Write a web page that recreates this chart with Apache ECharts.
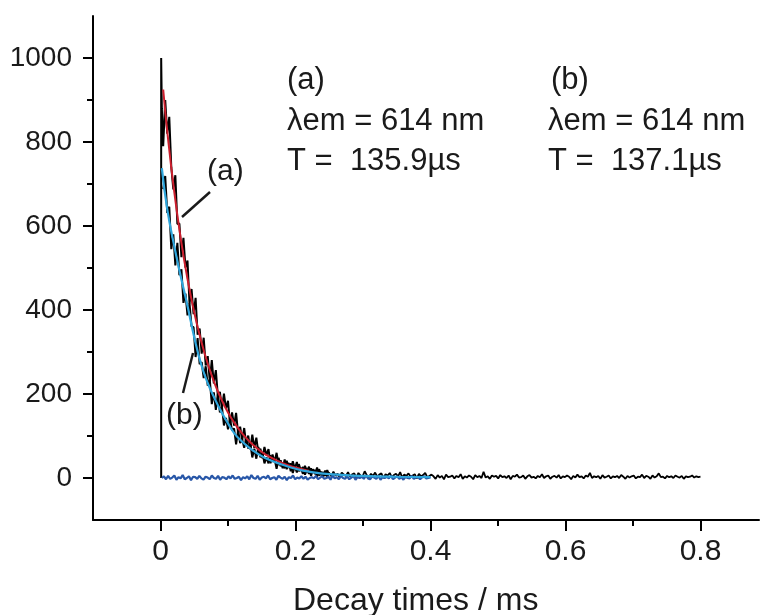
<!DOCTYPE html>
<html>
<head>
<meta charset="utf-8">
<script src="https://cdn.jsdelivr.net/npm/echarts@6/dist/echarts.min.js"></script>
<style>
html,body{margin:0;padding:0;background:#fff;}
#chart{width:760px;height:615px;}
</style>
</head>
<body>
<div id="chart"></div>
<script>
// ---- data ----
const xTickValues = [0, 0.2, 0.4, 0.6, 0.8];
const xMinorValues = [0.1, 0.3, 0.5, 0.7];
const yTickValues = [0, 200, 400, 600, 800, 1000];
const yMinorValues = [100, 300, 500, 700, 900];
const xTitle = 'Decay times / ms';

// rising edge of the measured decay
const riseTimes = [0.001, 0.001, 0.002];
const riseValues = [0, 1000, 880];

// measured decay (a), sampled from 0.004 ms every 0.003 ms
const decayStartA = 0.004, decayStepA = 0.003;
const decayA = [790, 900, 820, 860, 740, 687, 721, 605, 606, 526, 572, 501, 518, 415, 450, 390, 429, 341, 356, 296,
  334, 268, 290, 231, 281, 225, 257, 195, 205, 165, 201, 165, 184, 127, 156, 125, 155, 106, 122, 90,
  119, 81, 101, 68, 103, 72, 96, 60, 70, 47, 74, 54, 69, 35, 56, 38, 60, 31, 42, 23,
  44, 21, 36, 16, 40, 22, 38, 16, 24, 10, 29, 17, 27, 5, 21, 9, 25, 6, 15, 3, 18, 3, 14];

// measured decay (b)
const decayStartB = 0.004, decayStepB = 0.003;
const decayB = [688, 719, 631, 646, 545, 580, 506, 560, 483, 497, 417, 439, 387, 416, 361, 359, 288, 333, 271, 276,
  238, 266, 220, 235, 176, 204, 162, 200, 156, 170, 125, 143, 116, 140, 113, 118, 80, 114, 83, 92,
  72, 95, 70, 83, 49, 70, 46, 74, 49, 61, 35, 49, 35, 54, 39, 45, 22, 48, 28, 35,
  23, 41, 24, 35, 12, 28, 13, 33, 17, 26, 8, 19, 10, 23, 13, 19, 3, 21, 7, 14, 5, 19, 7];

// measured tail, from 0.25 ms to 0.8 ms
const tailStart = 0.25, tailEnd = 0.8;
const tail = [12, 4, 15, 6, 10, 2, 13, 8, 5, 14, 3, 9, 11, 1, 12, 6, 4, 16, 7, 2, 10, 5, 13, 3, 8, 11, 0, 9, 6, 12,
  2, 7, 10, 4, 14, 1, 8, 5, 11, 3, 6, 9, -1, 10, 4, 7, 12, 2, 5, 8,
  4, -2, 7, 1, 5, -3, 8, 2, 3, 6, -1, 5, 2, 9, -2, 4, 1, 6, 3, -3, 7, 2, 5, 0, 15, 1, 4, -2, 6, 3,
  5, -1, 7, 2, 4, 0, 6, -3, 5, 3, 8, 1, 2, 6, -2, 4, 7, 1, 3, -1, 5, 2, 9, 0, 4, 6, -2, 3, 5, 1,
  7, -1, 4, 2, 6, 3, -3, 5, 1, 8, 2, 4, -1, 6, 3, 12, 0, 4, 2, 5, -2, 7, 1, 3, 6, -1, 4, 2, 5, 0,
  7, 3, -2, 5, 1, 4, 6, -1, 3, 2, 8, 0, 5, 3, -2, 6, 1, 4, 11, 2, 3, -1, 5, 2, 4, 0, 6, 3, 1, 5,
  -2, 4, 2, 3, 6, 1, 4, 2, 3];

// background (blue), from 0.002 ms to 0.4 ms
const baseStart = 0.002, baseEnd = 0.4;
const baseline = [0, 4, -3, 5, -2, 1, 6, -4, 2, -1, 7, -3, 0, 4, -5, 3, 2, -2, 5, -1, -4, 3, 1, -3, 6, 0, -2, 5, -4, 2,
  1, -3, 4, -1, 6, -2, 0, 3, -5, 2, -1, 4, -3, 7, 0, -2, 5, -4, 1, 3, -1, 6, -3, 0, 2, -4, 5, 1, -2, 3,
  -5, 2, 0, 6, -3, 1, -1, 4, -2, 3, -4, 0, 2, -1, 5, -3, 1, 4, -2, 0, 3, -4, 6, -1, 2, -3, 5, 0, -2, 4,
  -3, 1, 5, -4, 2, 0, 3, -2, 6, -1, -3, 4, 1, -2, 5, -4, 2, 0, 3, -1, 5, -3, 1, 4, -2, 2, -4, 3, 0, -1,
  5, -2, 1, 3, -3, 2, 4, -1, 0, 2];

// fit (a), red
const fitATimes = [0.004, 0.01, 0.02, 0.03, 0.04, 0.05, 0.06, 0.07, 0.08, 0.09, 0.10, 0.11, 0.12, 0.13, 0.14, 0.15, 0.16, 0.18, 0.20, 0.22];
const fitAValues = [925, 826, 686, 570, 474, 394, 328, 272, 226, 188, 156, 130, 108, 90, 75, 62, 52, 36, 25, 17];

// fit (b), cyan
const fitBTimes = [0.002, 0.01, 0.02, 0.03, 0.04, 0.05, 0.06, 0.07, 0.08, 0.09, 0.10, 0.11, 0.12, 0.13, 0.14, 0.15, 0.16, 0.18, 0.20, 0.22, 0.25, 0.30, 0.35, 0.40];
const fitBValues = [738, 640, 555, 480, 410, 335, 272, 226, 190, 158, 130, 105, 88, 74, 62, 52, 44, 32, 22, 15, 9, 5, 3, 2];

// annotation texts
const noteA = ['(a)', 'λem = 614 nm', 'T =  135.9µs'];
const noteB = ['(b)', 'λem = 614 nm', 'T =  137.1µs'];
const curveLabelA = '(a)';
const curveLabelB = '(b)';

// ---- build ----
const FONT = 'Arial, "Liberation Sans", sans-serif';
const pairs = (ts, vs) => vs.map((v, i) => [ts[i], v]);
const stepped = (start, step, vs) => vs.map((v, i) => [start + i * step, v]);
const spread = (start, end, vs) => vs.map((v, i) => [start + (end - start) * i / (vs.length - 1), v]);

const seriesA = pairs(riseTimes, riseValues).concat(stepped(decayStartA, decayStepA, decayA));
const seriesB = stepped(decayStartB, decayStepB, decayB);
const seriesTail = spread(tailStart, tailEnd, tail);
const seriesBase = spread(baseStart, baseEnd, baseline);

const chart = echarts.init(document.getElementById('chart'), null, {renderer: 'canvas'});

const axLine = {show: true, onZero: false, lineStyle: {color: '#000', width: 2}};
const lineSeries = (data, color, width, extra) => Object.assign({
  type: 'line', data: data, showSymbol: false, symbol: 'none', animation: false,
  lineStyle: {color: color, width: width}, silent: true, xAxisIndex: 0, yAxisIndex: 0
}, extra || {});

const txt = (x, y, text, size) => ({
  type: 'text', x: x, y: y, silent: true,
  style: {text: text, font: (size || 31) + 'px ' + FONT, fill: '#1a1a1a', textAlign: 'left', textVerticalAlign: 'middle'}
});

chart.setOption({
  backgroundColor: '#ffffff',
  animation: false,
  grid: {left: 93, right: 1, top: 16, bottom: 95, containLabel: false},
  xAxis: [
    {type: 'value', min: -0.1, max: 0.8867, axisLine: axLine, splitLine: {show: false},
     axisTick: {show: true, customValues: xTickValues, length: 11, lineStyle: {color: '#000', width: 2}},
     axisLabel: {show: true, customValues: xTickValues, margin: 17, color: '#1a1a1a', fontSize: 30, fontFamily: FONT,
       formatter: v => String(v)}},
    {type: 'value', min: -0.1, max: 0.8867, position: 'bottom', axisLine: {show: false, onZero: false}, splitLine: {show: false},
     axisTick: {show: true, customValues: xMinorValues, length: 6, lineStyle: {color: '#000', width: 2}},
     axisLabel: {show: false}}
  ],
  yAxis: [
    {type: 'value', min: -100, max: 1100, axisLine: axLine, splitLine: {show: false},
     axisTick: {show: true, customValues: yTickValues, length: 10, lineStyle: {color: '#000', width: 2}},
     axisLabel: {show: true, customValues: yTickValues, margin: 21, color: '#1a1a1a', fontSize: 28, fontFamily: FONT,
       formatter: v => String(v)}},
    {type: 'value', min: -100, max: 1100, position: 'left', axisLine: {show: false, onZero: false}, splitLine: {show: false},
     axisTick: {show: true, customValues: yMinorValues, length: 6, lineStyle: {color: '#000', width: 2}},
     axisLabel: {show: false}}
  ],
  series: [
    lineSeries(seriesA, '#000000', 2),
    lineSeries(seriesB, '#000000', 2),
    lineSeries(seriesTail, '#000000', 1.8),
    lineSeries(seriesBase, '#2857a8', 2.2),
    lineSeries(pairs(fitATimes, fitAValues), '#cc1f2e', 2, {smooth: true}),
    lineSeries(pairs(fitBTimes, fitBValues), '#2fa6dc', 2.2, {smooth: true})
  ],
  graphic: [
    txt(287, 80, noteA[0]), txt(287, 121, noteA[1]), txt(287, 161, noteA[2]),
    txt(551, 80, noteB[0]), txt(548, 121, noteB[1]), txt(548, 161, noteB[2]),
    txt(207, 172, curveLabelA, 30), txt(166, 416, curveLabelB, 30),
    {type: 'line', silent: true, shape: {x1: 210, y1: 192, x2: 182, y2: 217}, style: {stroke: '#1a1a1a', lineWidth: 2.5}},
    {type: 'line', silent: true, shape: {x1: 183, y1: 393, x2: 193, y2: 353}, style: {stroke: '#1a1a1a', lineWidth: 2.5}},
    txt(293, 601, xTitle, 32)
  ]
});
</script>
</body>
</html>
